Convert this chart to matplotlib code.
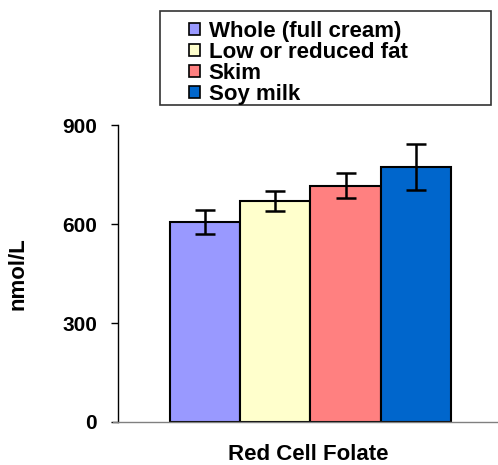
import matplotlib.pyplot as plt
from matplotlib.patches import Rectangle, Patch

# Red cell folate by type of milk consumed
groups = ["Whole (full cream)", "Low or reduced fat", "Skim", "Soy milk"]
means = [607, 670, 716, 773]
errors = [36, 30, 38, 70]
colors = ["#9999FF", "#FFFFCC", "#FF8080", "#0066CC"]
yticks = [0, 300, 600, 900]

plt.rcParams["font.family"] = ["Liberation Sans", "DejaVu Sans"]
plt.rcParams["font.weight"] = "bold"

fig = plt.figure(figsize=(4.98, 4.65), dpi=100)
ax = fig.add_axes([0.237, 0.0925, 0.763, 0.6385])

x = range(len(groups))
ax.bar(x, means, width=1.0, color=colors, edgecolor="black", linewidth=1.5,
       yerr=errors, capsize=7.5,
       error_kw=dict(ecolor="black", elinewidth=1.8, capthick=1.8))

ax.set_xlim(-1.24, 4.17)
ax.set_ylim(0, 900)
ax.set_yticks(yticks)
ax.set_yticklabels([str(t) for t in yticks], fontsize=15, fontweight="bold")
ax.set_xticks([])
ax.tick_params(axis="y", direction="out", length=5, width=1, pad=10)

for side in ["top", "right"]:
    ax.spines[side].set_visible(False)
ax.spines["left"].set_linewidth(1)
ax.spines["bottom"].set_color("#808080")
ax.spines["bottom"].set_linewidth(1)
ax.spines["bottom"].set_bounds(-1.31, 4.17)

ax.set_ylabel("nmol/L", fontsize=16, fontweight="bold", labelpad=24)
ax.set_xlabel("Red Cell Folate", fontsize=16, fontweight="bold", labelpad=16)

# legend box drawn as a separate frame
fig.patches.append(Rectangle((0.321, 0.774), 0.665, 0.202, transform=fig.transFigure,
                             facecolor="white", edgecolor="#333333", linewidth=1.2,
                             zorder=0))
handles = [Patch(facecolor=c, edgecolor="black", linewidth=1.2) for c in colors]
fig.legend(handles, groups, loc="upper left", bbox_to_anchor=(0.379, 0.955),
           frameon=False, handlelength=0.5, handleheight=0.5,
           handletextpad=0.4, labelspacing=0.0, borderpad=0, borderaxespad=0,
           prop=dict(weight="bold", size=16))

fig.savefig("out.png", dpi=100)
